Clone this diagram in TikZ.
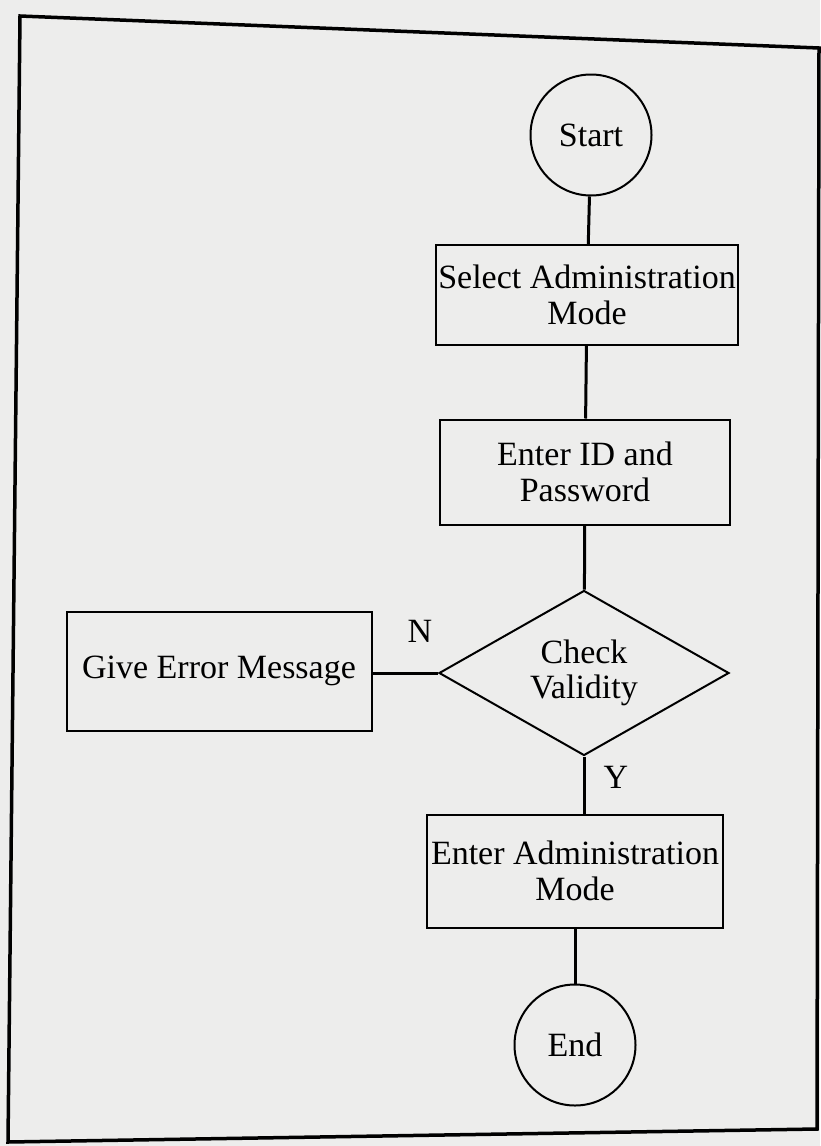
\documentclass[tikz,border=0pt]{standalone}
\usepackage{fontspec}
\setmainfont{Liberation Serif}
\usetikzlibrary{shapes.geometric}
\tikzset{every picture/.style={line width=2pt}}
\tikzset{
  terminal/.style={draw, circle, minimum size=121pt, inner sep=0pt, font=\fontsize{34}{36}\selectfont},
  process/.style={draw, rectangle, inner sep=0pt, align=center, font=\fontsize{34}{36}\selectfont},
  decision/.style={draw, diamond, aspect=1.76, minimum width=290pt, minimum height=165pt, inner sep=0pt, align=center, font=\fontsize{34}{35}\selectfont},
  flowline/.style={line width=3pt},
  branch/.style={font=\fontsize{34}{36}\selectfont}
}

\begin{document}
\begin{tikzpicture}[x=1pt,y=1pt,yscale=-1,xscale=1]
\useasboundingbox (0,0) rectangle (820,1146);
\fill[fill={rgb,255:red,237;green,237;blue,236}] (0,0) rectangle (820,1146);

%Shape: Page frame
\draw[line width=3.5pt] (20,16) -- (819,48) -- (817,1129) -- (8,1142) -- cycle;

%Shape: Circle
\node[terminal] (start) at (591,135) {Start};
%Shape: Rectangle
\node[process, minimum width=302pt, minimum height=100pt] (select) at (587,295) {Select Administration\\Mode};
%Shape: Rectangle
\node[process, minimum width=290pt, minimum height=105pt] (login) at (585,472) {Enter ID and\\Password};
%Shape: Diamond
\node[decision] (check) at (584,673) {Check\\Validity};
%Shape: Rectangle
\node[process, minimum width=305pt, minimum height=119pt] (error) at (219,671) {Give Error Message};
%Shape: Rectangle
\node[process, minimum width=296pt, minimum height=113pt] (admin) at (575,871) {Enter Administration\\Mode};
%Shape: Circle
\node[terminal] (end) at (575,1045) {End};

%Straight Lines
\draw[flowline] (start) -- (select);
\draw[flowline] (select) -- (login);
\draw[flowline] (login) -- (check);
\draw[flowline] (check.west) -- (check.west -| error.east);
\draw[flowline] (check.south) -- (check.south |- admin.north);
\draw[flowline] (admin) -- (end);

% Text Node
\node[branch] (no) at (420,631) {N};
% Text Node
\node[branch] (yes) at (616,777) {Y};

\end{tikzpicture}
\end{document}
